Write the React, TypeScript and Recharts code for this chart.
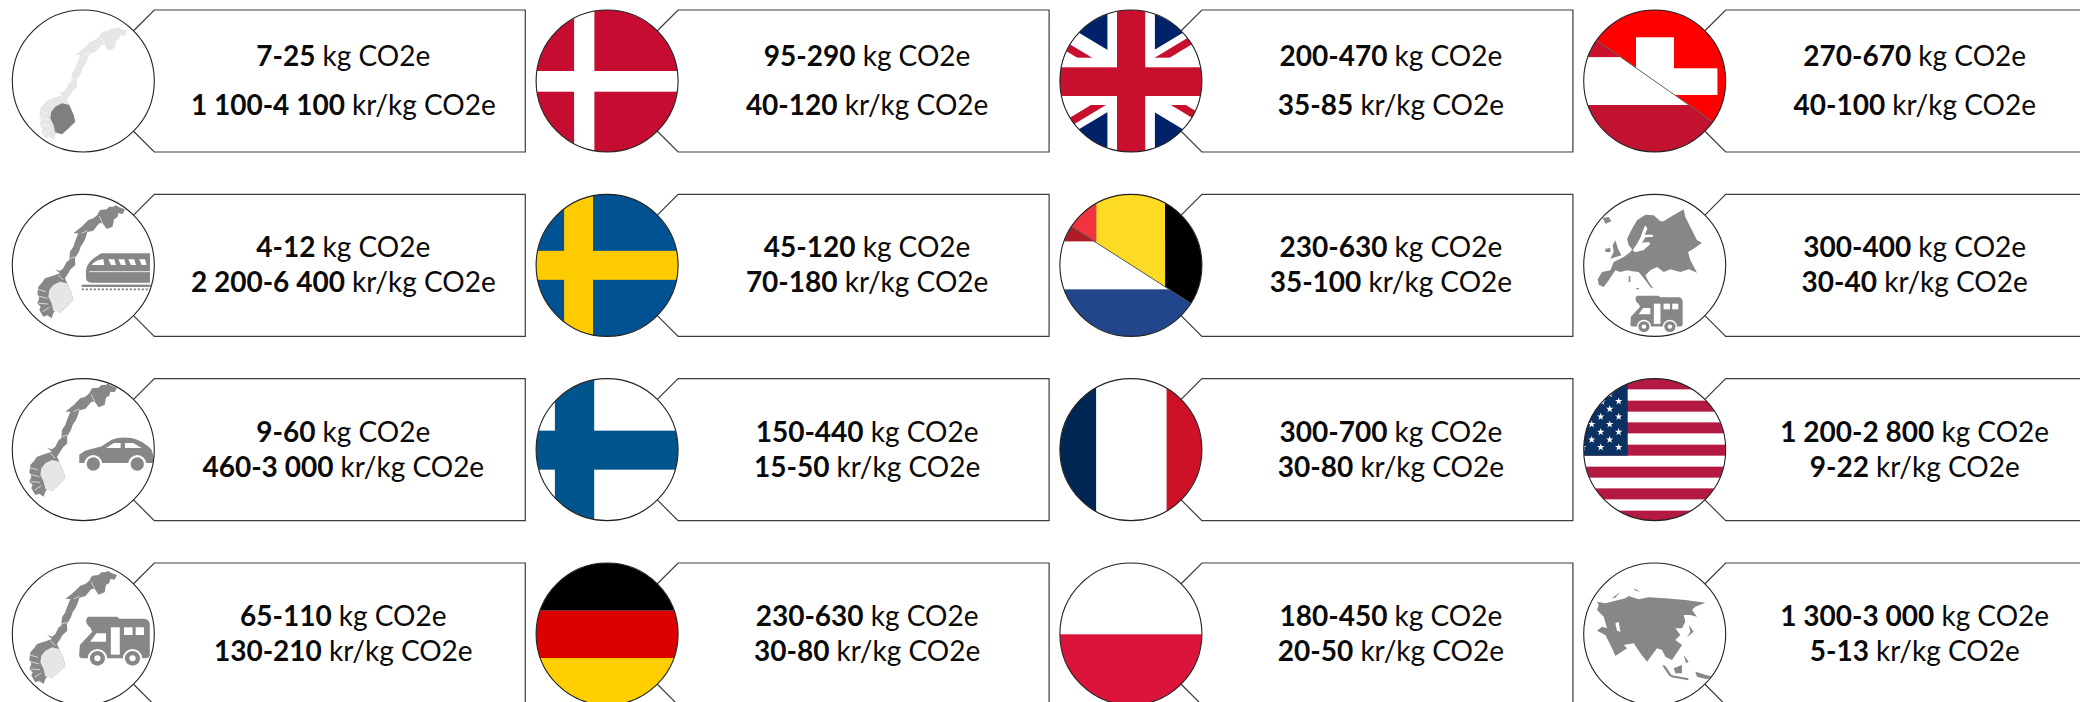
import React from "react";
import { ScatterChart, Scatter, XAxis, YAxis } from "recharts";

// listed column by column, four rows each
const places = [
  "norway-total", "norway-train", "norway-car", "norway-camper",
  "denmark", "sweden", "finland", "germany",
  "uk", "benelux", "france", "poland",
  "alps", "europe-camper", "usa", "asia",
];
const kgRanges = [
  "7-25", "4-12", "9-60", "65-110",
  "95-290", "45-120", "150-440", "230-630",
  "200-470", "230-630", "300-700", "180-450",
  "270-670", "300-400", "1 200-2 800", "1 300-3 000",
];
const krRanges = [
  "1 100-4 100", "2 200-6 400", "460-3 000", "130-210",
  "40-120", "70-180", "15-50", "30-80",
  "35-85", "35-100", "30-80", "20-50",
  "40-100", "30-40", "9-22", "5-13",
];

const cells = places.map((place, i) => ({
  place,
  kg: kgRanges[i],
  kr: krRanges[i],
  col: Math.floor(i / 4),
  row: i % 4,
}));

const WIDTH = 2080;
const HEIGHT = 702;
const COL_STEP = 523.8;
const ROW_STEP = 184.33;
const R = 71;
const GREY = "#878787";
const LIGHT = "#E4E6E7";

const xDomain = [-83.3 / COL_STEP, (WIDTH - 83.3) / COL_STEP];
const yDomain = [-81 / ROW_STEP, (HEIGHT - 81) / ROW_STEP];

const pts = (list: number[][]) => list.map((p) => p.join(",")).join(" ");

const NORWAY = [
  [310, 50], [318, 46], [328, 52], [345, 58], [338, 72], [325, 70], [322, 82], [312, 88], [308, 110], [290, 117], [278, 100],
  [268, 100], [258, 112], [250, 122], [232, 126], [228, 140], [222, 155], [212, 170], [207, 185], [195, 205], [196, 225],
  [182, 238], [175, 250], [165, 265], [172, 280], [185, 310], [190, 330], [170, 350], [150, 368], [138, 360], [130, 370], [125, 385],
  [112, 376], [100, 380], [88, 360], [92, 350], [82, 340], [88, 325], [82, 312], [85, 290], [96, 278], [105, 265], [135, 255], [150, 250],
  [135, 238], [150, 243], [160, 235], [170, 215], [178, 210], [180, 185], [190, 170], [195, 155], [205, 130], [190, 130], [215, 110],
  [235, 90], [250, 85], [262, 75], [270, 60], [290, 58], [298, 50],
];
const NORWAY_SOUTH = [
  [130, 285], [150, 275], [172, 280], [185, 310], [190, 330], [170, 350], [150, 368], [130, 362], [125, 340],
  [115, 320], [118, 300],
];
const FJORDS = [
  "84,298 108,305", "84,318 112,325", "86,340 114,342", "98,365 118,352",
  "215,130 232,122", "180,205 196,200", "278,100 268,78", "145,255 160,270",
];

const EUROPE = [
  [135, 140], [150, 110], [165, 85], [190, 68], [215, 70], [235, 88], [245, 88], [270, 72], [305, 52], [310, 75],
  [325, 105], [345, 145], [360, 152], [335, 170], [318, 180], [325, 205], [345, 242], [320, 232], [295, 240],
  [265, 232], [245, 240], [225, 225], [205, 235], [190, 250], [200, 270], [215, 290], [205, 285], [190, 265],
  [170, 240], [150, 238], [135, 235], [115, 240], [100, 235], [80, 265], [65, 285], [50, 278], [47, 262], [60, 240],
  [85, 235], [95, 210], [125, 195], [145, 180], [150, 172], [140, 160],
];
const BALTIC = [
  [190, 100], [184, 112], [176, 135], [165, 155], [152, 175], [160, 181], [185, 174], [205, 156], [200, 150],
  [180, 152], [190, 136], [214, 134], [212, 128], [188, 128], [196, 110],
];
const UK_ISLE = [[100, 145], [108, 170], [118, 190], [85, 200], [95, 180], [92, 160]];
const IRELAND = [[70, 170], [85, 168], [85, 180], [70, 180]];
const ICELAND = [[62, 78], [80, 75], [88, 88], [70, 95]];

const ASIA = [
  [45, 125], [70, 130], [100, 122], [130, 115], [140, 108], [170, 118], [200, 112], [250, 115], [310, 120], [370, 128], [340, 140],
  [330, 150], [345, 170], [325, 165], [305, 165], [310, 185], [300, 205], [280, 205], [295, 225], [280, 240], [300, 255],
  [280, 285], [270, 300], [250, 290], [240, 270], [225, 265], [195, 305], [175, 280], [155, 250], [125, 255], [135, 265],
  [100, 288], [90, 265], [70, 225], [45, 212], [60, 200], [75, 205], [65, 170], [45, 150], [50, 135],
];
const CASPIAN = [[100, 190], [110, 185], [115, 215], [105, 212]];
const ASIA_ISLES = [
  [[320, 195], [335, 215], [315, 232], [325, 215]],
  [[240, 315], [250, 318], [272, 350], [262, 348]],
  [[275, 325], [300, 315], [300, 340], [280, 340]],
  [[265, 345], [320, 355], [318, 361], [268, 352]],
  [[305, 285], [320, 305], [312, 310]],
  [[340, 335], [390, 350], [375, 358], [345, 350]],
  [[90, 115], [115, 95], [100, 113]],
  [[155, 85], [175, 95], [160, 92]],
];

const STARS = [
  [110, 77], [83, 100], [56, 123], [110, 123], [83, 146], [29, 146], [56, 169], [110, 169], [29, 192], [83, 192],
  [2, 215], [56, 215], [110, 215], [83, 55], [60, 78],
];
const STRIPE_TOPS = [-71.3, -49, -27.3, -5, 17, 38.7, 61];

const Star = ({ x, y }: { x: number; y: number }) => {
  const list: number[][] = [];
  for (let i = 0; i < 10; i++) {
    const r = i % 2 ? 1.5 : 3.9;
    const a = (i * Math.PI) / 5 - Math.PI / 2;
    list.push([x + r * Math.cos(a), y + r * Math.sin(a)]);
  }
  return <polygon points={pts(list)} fill="#fff" />;
};

const Norway = ({ dx, dy, body, south }: { dx: number; dy: number; body: string; south: string }) => (
  <g transform={`translate(${dx},${dy}) scale(0.3333) translate(-220,-226)`}>
    <polygon points={pts(NORWAY)} fill={body} />
    <polygon points={pts(NORWAY_SOUTH)} fill={south} />
    {FJORDS.map((f) => (
      <polyline key={f} points={f} fill="none" stroke="#fff" strokeWidth={2.5} opacity={0.8} />
    ))}
  </g>
);

const Train = () => (
  <g transform="scale(0.3333) translate(-220,-226)">
    <path d="M275,190 L420,190 L420,278 L245,278 Q228,278 228,262 L228,240 Q232,212 275,190 Z" fill={GREY} />
    <path d="M245,225 Q255,210 280,207 L283,225 Z M295,208 L313,208 L318,225 L303,225 Z M325,208 L343,208 L348,225 L333,225 Z M355,208 L373,208 L378,225 L363,225 Z M388,208 L405,208 L410,225 L395,225 Z" fill="#fff" />
    <line x1={238} y1={245} x2={420} y2={245} stroke="#fff" strokeWidth={2.5} />
    <rect x={215} y={284} width={207} height={7} fill={GREY} />
    <line x1={215} y1={298} x2={422} y2={298} stroke={GREY} strokeWidth={5} strokeDasharray="7 5" />
  </g>
);

const Car = ({ dx, dy }: { dx: number; dy: number }) => (
  <g transform={`translate(${dx},${dy}) scale(0.3333) translate(-220,-225)`}>
    <path d="M208,265 L208,240 L225,228 L275,215 L305,195 Q330,186 365,190 Q400,198 425,225 L432,250 L428,265 Z" fill={GREY} />
    <path d="M288,220 L312,205 L332,205 L332,220 Z M345,205 L370,205 L395,220 L345,220 Z" fill="#fff" />
    {[250, 382].map((x) => (
      <g key={x}>
        <circle cx={x} cy={268} r={27} fill="#fff" />
        <circle cx={x} cy={268} r={20} fill={GREY} />
      </g>
    ))}
  </g>
);

const Camper = ({ dx, dy, k }: { dx: number; dy: number; k: number }) => (
  <g transform={`translate(${dx},${dy}) scale(${k}) scale(0.3444,0.3333) translate(-332,-870)`}>
    <path d="M255,800 L340,800 L348,806 L420,806 Q435,808 435,825 L435,915 Q435,925 420,925 L240,925 Q230,925 230,915 L232,885 L268,845 L262,832 Q250,825 250,810 Z" fill={GREY} />
    <path d="M262,875 L280,850 L308,850 L308,875 Z" fill="#fff" />
    <rect x={322} y={832} width={26} height={82} fill="#fff" />
    <rect x={360} y={832} width={25} height={23} fill="#fff" />
    <rect x={394} y={832} width={24} height={23} fill="#fff" />
    {[283, 385].map((x) => (
      <g key={x}>
        <circle cx={x} cy={925} r={28} fill="#fff" />
        <circle cx={x} cy={925} r={22} fill={GREY} />
        <circle cx={x} cy={925} r={9} fill="#fff" />
      </g>
    ))}
  </g>
);

const Europe = () => (
  <g>
    <g transform="scale(0.3333) translate(-218,-220)" fill={GREY}>
      <polygon points={pts(EUROPE)} />
      <polygon points={pts(BALTIC)} fill="#fff" />
      <polygon points={pts(UK_ISLE)} />
      <polygon points={pts(IRELAND)} />
      <polygon points={pts(ICELAND)} />
      <polygon points="160,288 172,288 168,293" />
      <polygon points="140,253 145,253 145,270 140,270" />
    </g>
    <Camper dx={1.7} dy={47.7} k={0.74} />
  </g>
);

const Asia = () => (
  <g transform="scale(0.3333) translate(-218,-222)" fill={GREY}>
    <polygon points={pts(ASIA)} />
    <polygon points={pts(CASPIAN)} fill="#fff" />
    {ASIA_ISLES.map((isle, i) => (
      <polygon key={i} points={pts(isle)} />
    ))}
  </g>
);

const Box = ({ x, y, w, h, fill }: { x: number; y: number; w: number; h: number; fill: string }) => (
  <rect x={x} y={y} width={w} height={h} fill={fill} />
);

const Uk = () => {
  const s = 0.6;
  const e = 90;
  return (
    <g>
      <Box x={-R} y={-R} w={2 * R} h={2 * R} fill="#012169" />
      <polygon points={pts([[-e, -s * e - 17], [e, s * e - 17], [e, s * e + 17], [-e, -s * e + 17]])} fill="#fff" />
      <polygon points={pts([[-e, s * e - 17], [e, -s * e - 17], [e, -s * e + 17], [-e, s * e + 17]])} fill="#fff" />
      <polygon points={pts([[0, 0], [-e, -s * e], [-e, -s * e + 9], [0, 9]])} fill="#C8102E" />
      <polygon points={pts([[0, 0], [e, -s * e], [e, -s * e - 9], [0, -9]])} fill="#C8102E" />
      <polygon points={pts([[0, 0], [-e, s * e], [-e, s * e + 9], [0, 9]])} fill="#C8102E" />
      <polygon points={pts([[0, 0], [e, s * e], [e, s * e - 9], [0, -9]])} fill="#C8102E" />
      <Box x={-23.5} y={-R} w={47.5} h={2 * R} fill="#fff" />
      <Box x={-R} y={-23.3} w={2 * R} h={47.3} fill="#fff" />
      <Box x={-13.9} y={-R} w={28.2} h={2 * R} fill="#C8102E" />
      <Box x={-R} y={-13.7} w={2 * R} h={28.7} fill="#C8102E" />
    </g>
  );
};

const Benelux = ({ id }: { id: string }) => {
  const k = 0.641;
  const upper = pts([[-90, -90 * k - 0.5], [90, 90 * k - 0.5], [90, -90], [-90, -90]]);
  return (
    <g>
      <Box x={-R} y={-R} w={2 * R} h={47.3} fill="#AE1C28" />
      <Box x={-R} y={-23.7} w={2 * R} h={47.7} fill="#fff" />
      <Box x={-R} y={24} w={2 * R} h={47} fill="#21468B" />
      <clipPath id={id}>
        <polygon points={upper} />
      </clipPath>
      <g clipPath={`url(#${id})`}>
        <Box x={-R} y={-R} w={R - 34.6} h={2 * R} fill="#EF3340" />
        <Box x={-34.6} y={-R} w={68.8} h={2 * R} fill="#FDDA24" />
        <Box x={34.2} y={-R} w={R} h={2 * R} fill="#000" />
      </g>
      <line x1={-90} y1={-90 * k - 0.5} x2={90} y2={90 * k - 0.5} stroke="#555" strokeWidth={1} />
    </g>
  );
};

const Alps = ({ id }: { id: string }) => {
  const k = 0.702;
  const upper = pts([[-90, -90 * k], [90, 90 * k], [90, -90], [-90, -90]]);
  return (
    <g>
      <Box x={-R} y={-R} w={2 * R} h={47.3} fill="#C8102E" />
      <Box x={-R} y={-23.7} w={2 * R} h={47.7} fill="#fff" />
      <Box x={-R} y={24} w={2 * R} h={47} fill="#C1122F" />
      <clipPath id={id}>
        <polygon points={upper} />
      </clipPath>
      <g clipPath={`url(#${id})`}>
        <Box x={-R} y={-R} w={2 * R} h={2 * R} fill="#FF0000" />
        <Box x={-18.7} y={-43.7} w={38} h={88} fill="#fff" />
        <Box x={-64} y={-12.7} w={126.7} h={26.7} fill="#fff" />
      </g>
      <line x1={-90} y1={-90 * k} x2={90} y2={90 * k} stroke="#666" strokeWidth={1} />
    </g>
  );
};

const Usa = () => (
  <g>
    <Box x={-R} y={-R} w={2 * R} h={2 * R} fill="#fff" />
    {STRIPE_TOPS.map((t) => (
      <Box key={t} x={-R} y={t} w={2 * R} h={11} fill="#B31942" />
    ))}
    <Box x={-R} y={-R} w={R - 27} h={R + 6} fill="#0A3161" />
    {STARS.map(([x, y]) => (
      <Star key={`${x}-${y}`} x={(x - 218) / 3} y={(y - 222) / 3} />
    ))}
  </g>
);

const Picture = ({ place, id }: { place: string; id: string }) => {
  switch (place) {
    case "norway-total":
      return <Norway dx={2} dy={6} body={LIGHT} south="#7F7F7F" />;
    case "norway-train":
      return (
        <g>
          <Norway dx={0} dy={0} body={GREY} south={LIGHT} />
          <Train />
        </g>
      );
    case "norway-car":
      return (
        <g>
          <Norway dx={-8} dy={-6} body={GREY} south={LIGHT} />
          <Car dx={0} dy={0} />
        </g>
      );
    case "norway-camper":
      return (
        <g>
          <Norway dx={-8} dy={-3} body={GREY} south={LIGHT} />
          <Camper dx={31} dy={6} k={1} />
        </g>
      );
    case "denmark":
      return (
        <g>
          <Box x={-R} y={-R} w={2 * R} h={2 * R} fill="#C60C30" />
          <Box x={-33} y={-R} w={20.3} h={2 * R} fill="#fff" />
          <Box x={-R} y={-10} w={2 * R} h={20.7} fill="#fff" />
        </g>
      );
    case "sweden":
      return (
        <g>
          <Box x={-R} y={-R} w={2 * R} h={2 * R} fill="#005293" />
          <Box x={-43} y={-R} w={28.9} h={2 * R} fill="#FECB00" />
          <Box x={-R} y={-14.5} w={2 * R} h={29} fill="#FECB00" />
        </g>
      );
    case "finland":
      return (
        <g>
          <Box x={-R} y={-R} w={2 * R} h={2 * R} fill="#fff" />
          <Box x={-52.2} y={-R} w={39.3} h={2 * R} fill="#00558C" />
          <Box x={-R} y={-19} w={2 * R} h={39} fill="#00558C" />
        </g>
      );
    case "germany":
      return (
        <g>
          <Box x={-R} y={-R} w={2 * R} h={47.7} fill="#000" />
          <Box x={-R} y={-23.3} w={2 * R} h={47.3} fill="#DD0000" />
          <Box x={-R} y={24} w={2 * R} h={47} fill="#FFCE00" />
        </g>
      );
    case "uk":
      return <Uk />;
    case "benelux":
      return <Benelux id={`${id}-up`} />;
    case "france":
      return (
        <g>
          <Box x={-R} y={-R} w={2 * R} h={2 * R} fill="#fff" />
          <Box x={-R} y={-R} w={R - 34.8} h={2 * R} fill="#002654" />
          <Box x={35.7} y={-R} w={R} h={2 * R} fill="#CE1126" />
        </g>
      );
    case "poland":
      return (
        <g>
          <Box x={-R} y={-R} w={2 * R} h={R} fill="#fff" />
          <Box x={-R} y={0.3} w={2 * R} h={R} fill="#DC143C" />
        </g>
      );
    case "alps":
      return <Alps id={`${id}-up`} />;
    case "europe-camper":
      return <Europe />;
    case "usa":
      return <Usa />;
    case "asia":
      return <Asia />;
    default:
      return null;
  }
};

// one callout: box with a notch, round picture on top of it, two lines of text
const Callout = (props: any) => {
  const { cx, cy, payload } = props;
  const id = `clip-${payload.place}`;
  const top = payload.row === 0 ? -15 : -8;
  const bottom = payload.row === 0 ? 34 : 27;
  return (
    <g transform={`translate(${cx},${cy})`}>
      <path
        d={`M50,-50 L${R},${-R} L442,${-R} L442,${R} L${R},${R} L50,50`}
        fill="#fff"
        stroke="#3c3c3c"
        strokeWidth={1.2}
      />
      <clipPath id={id}>
        <circle r={R} />
      </clipPath>
      <circle r={R} fill="#fff" />
      <g clipPath={`url(#${id})`}>
        <Picture place={payload.place} id={id} />
      </g>
      <circle r={R} fill="none" stroke="#222" strokeWidth={1.1} />
      <text x={260} y={top} textAnchor="middle" fontFamily="Lato" fontSize={28} fill="#0a0a0a">
        <tspan fontWeight={700}>{payload.kg}</tspan> kg CO2e
      </text>
      <text x={260} y={bottom} textAnchor="middle" fontFamily="Lato" fontSize={28} fill="#0a0a0a">
        <tspan fontWeight={700}>{payload.kr}</tspan> kr/kg CO2e
      </text>
    </g>
  );
};

export default function App() {
  return (
    <div style={{ position: "absolute", left: 0, top: 0, width: WIDTH, height: HEIGHT, overflow: "hidden" }}>
      <ScatterChart width={WIDTH} height={HEIGHT} margin={{ top: 0, right: 0, bottom: 0, left: 0 }}>
        <XAxis type="number" dataKey="col" domain={xDomain} hide />
        <YAxis type="number" dataKey="row" domain={yDomain} reversed hide />
        <Scatter data={cells} shape={Callout} isAnimationActive={false} />
      </ScatterChart>
    </div>
  );
}
